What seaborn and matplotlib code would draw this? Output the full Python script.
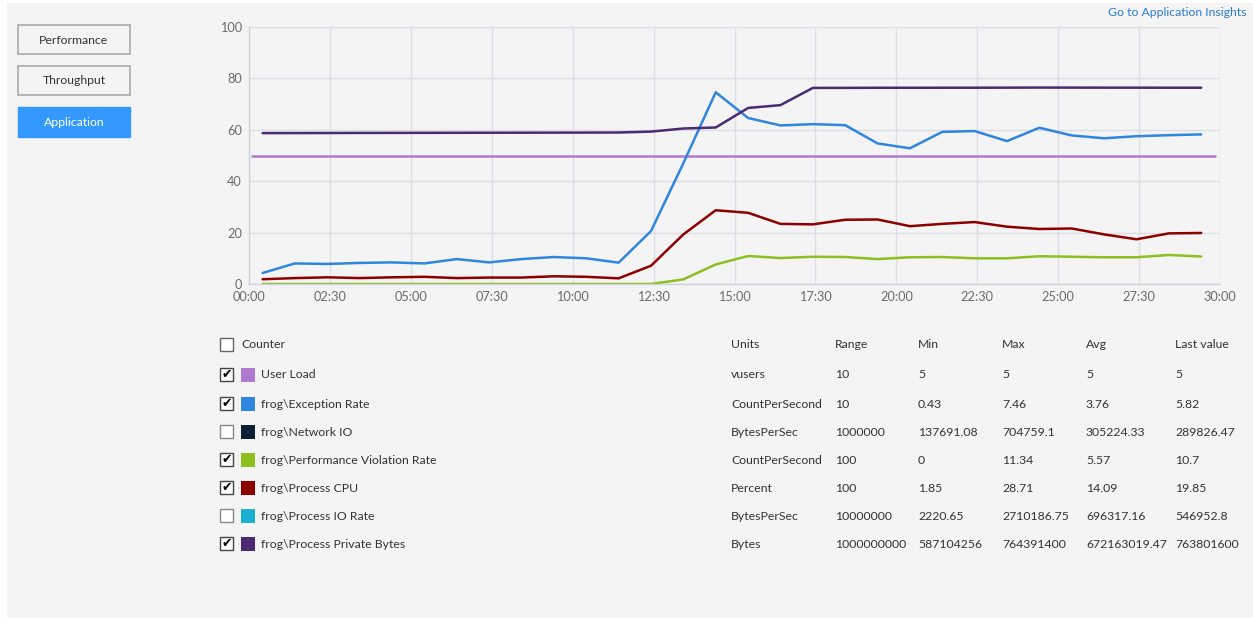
import pandas as pd
import matplotlib
matplotlib.use("Agg")
import matplotlib.pyplot as plt
from matplotlib.patches import Rectangle
import seaborn as sns

W, H = 1253, 621

# sample times in minutes since start of the run
minutes = [0.42, 1.42, 2.42, 3.42, 4.42, 5.42, 6.42, 7.42, 8.42, 9.42,
           10.42, 11.42, 12.42, 13.42, 14.42, 15.42, 16.42, 17.42, 18.42, 19.42,
           20.42, 21.42, 22.42, 23.42, 24.42, 25.42, 26.42, 27.42, 28.42, 29.42]

exception_rate = [4.3, 8.0, 7.8, 8.2, 8.4, 8.0, 9.7, 8.4, 9.7, 10.5,
                  10.0, 8.3, 20.6, 47.0, 74.6, 64.6, 61.7, 62.2, 61.8, 54.7,
                  52.8, 59.2, 59.5, 55.6, 60.8, 57.8, 56.7, 57.5, 57.9, 58.2]
perf_violation = [0.0, 0.0, 0.0, 0.0, 0.0, 0.0, 0.0, 0.0, 0.0, 0.0,
                  0.0, 0.0, 0.0, 1.8, 7.6, 10.9, 10.1, 10.6, 10.5, 9.7,
                  10.4, 10.5, 10.0, 10.0, 10.8, 10.6, 10.4, 10.4, 11.3, 10.7]
process_cpu = [1.85, 2.3, 2.6, 2.3, 2.6, 2.8, 2.3, 2.5, 2.5, 3.0,
               2.8, 2.2, 7.1, 19.3, 28.7, 27.7, 23.4, 23.2, 25.0, 25.1,
               22.5, 23.4, 24.1, 22.3, 21.4, 21.6, 19.3, 17.4, 19.7, 19.85]
private_bytes = [58.71, 58.73, 58.75, 58.78, 58.80, 58.82, 58.84, 58.86, 58.88, 58.90,
                 58.92, 58.95, 59.3, 60.5, 60.9, 68.5, 69.6, 76.3, 76.32, 76.35,
                 76.36, 76.37, 76.38, 76.40, 76.44, 76.42, 76.40, 76.39, 76.38, 76.38]
user_load_minutes = [0.1, 29.85]
user_load = [50, 50]

tick_minutes = [0, 2.5, 5, 7.5, 10, 12.5, 15, 17.5, 20, 22.5, 25, 27.5, 30]
tick_labels = ["00:00", "02:30", "05:00", "07:30", "10:00", "12:30", "15:00",
               "17:30", "20:00", "22:30", "25:00", "27:30", "30:00"]

counters = ["User Load", "frog\\Exception Rate", "frog\\Network IO",
            "frog\\Performance Violation Rate", "frog\\Process CPU",
            "frog\\Process IO Rate", "frog\\Process Private Bytes"]
checked = [True, True, False, True, True, False, True]
colors = ["#b07ad0", "#2f86de", "#0e1f38", "#8cbf1f", "#8e0000", "#1aaed0", "#4a2a72"]
units = ["vusers", "CountPerSecond", "BytesPerSec", "CountPerSecond", "Percent",
         "BytesPerSec", "Bytes"]
ranges = ["10", "10", "1000000", "100", "100", "10000000", "1000000000"]
mins = ["5", "0.43", "137691.08", "0", "1.85", "2220.65", "587104256"]
maxs = ["5", "7.46", "704759.1", "11.34", "28.71", "2710186.75", "764391400"]
avgs = ["5", "3.76", "305224.33", "5.57", "14.09", "696317.16", "672163019.47"]
lasts = ["5", "5.82", "289826.47", "10.7", "19.85", "546952.8", "763801600"]
buttons = ["Performance", "Throughput", "Application"]

palette = dict(zip(counters, colors))

df = pd.concat([
    pd.DataFrame({"minute": user_load_minutes, "value": user_load, "counter": counters[0]}),
    pd.DataFrame({"minute": minutes, "value": exception_rate, "counter": counters[1]}),
    pd.DataFrame({"minute": minutes, "value": perf_violation, "counter": counters[3]}),
    pd.DataFrame({"minute": minutes, "value": process_cpu, "counter": counters[4]}),
    pd.DataFrame({"minute": minutes, "value": private_bytes, "counter": counters[6]}),
])

sns.set_theme(style="whitegrid")
plt.rcParams["font.family"] = ["Lato", "DejaVu Sans"]

BG = "#f4f4f4"
TXT = "#333333"
FS = 8.8

fig = plt.figure(figsize=(W / 100, H / 100), dpi=100, facecolor="white")


def fx(x):
    return x / W


def fy(y):
    return 1 - y / H


def box(x, y, w, h, **kw):
    fig.patches.append(Rectangle((fx(x), fy(y + h)), w / W, h / H,
                                 transform=fig.transFigure, **kw))


# panel background
box(7, 3, W - 7, 615, facecolor=BG, edgecolor="none", zorder=-5)

ax = fig.add_axes([fx(249), fy(284), 971 / W, 257 / H])
ax.set_zorder(1)
sns.lineplot(data=df, x="minute", y="value", hue="counter", palette=palette,
             ax=ax, legend=False, linewidth=1.8, estimator=None, sort=False)
ax.set_facecolor(BG)
ax.set_xlim(0, 30)
ax.set_ylim(0, 100)
ax.set_xticks(tick_minutes)
ax.set_xticklabels(tick_labels)
ax.set_yticks([0, 20, 40, 60, 80, 100])
ax.set_xlabel("")
ax.set_ylabel("")
ax.grid(True, color="#dcdee6", linewidth=1)
ax.tick_params(length=0, labelsize=9.2, colors="#6b6b6b", pad=5)
for side in ["top", "right"]:
    ax.spines[side].set_visible(False)
for side in ["left", "bottom"]:
    ax.spines[side].set_color("#d0d2da")
    ax.spines[side].set_linewidth(1)

# left hand buttons
for i, name in enumerate(buttons):
    y0 = 25 + i * 41
    if name == "Application":
        box(18, y0, 112, 30, facecolor="#3399ff", edgecolor="#3399ff", zorder=2)
        fig.text(fx(74), fy(y0 + 15), name, color="white", fontsize=FS,
                 ha="center", va="center")
    else:
        box(18, y0, 112, 29, facecolor=BG, edgecolor="#aaaaaa", linewidth=1.2, zorder=2)
        fig.text(fx(74), fy(y0 + 15), name, color=TXT, fontsize=FS,
                 ha="center", va="center")

fig.text(fx(1247), fy(13), "Go to Application Insights", color="#2b7cd3",
         fontsize=FS, ha="right", va="center")

# counter table
cols_x = [731, 835, 918, 1002, 1086, 1175]
headers = ["Units", "Range", "Min", "Max", "Avg", "Last value"]
box(220, 338, 13, 13, facecolor="white", edgecolor="#666666", linewidth=1, zorder=2)
fig.text(fx(241), fy(345), "Counter", color=TXT, fontsize=FS, va="center")
for cx, h in zip(cols_x, headers):
    fig.text(fx(cx), fy(345), h, color=TXT, fontsize=FS, va="center")

row_y = [375, 404, 432, 460, 488, 516, 544]
for i, yy in enumerate(row_y):
    box(220, yy - 7, 13, 13, facecolor="white",
        edgecolor="#444444" if checked[i] else "#888888", linewidth=1, zorder=2)
    if checked[i]:
        fig.text(fx(226.5), fy(yy - 0.5), "\u2714", color="black", fontsize=9,
                 ha="center", va="center", family="DejaVu Sans", zorder=3)
    box(241, yy - 7, 14, 14, facecolor=colors[i], edgecolor="none", zorder=2)
    fig.text(fx(261), fy(yy), counters[i], color=TXT, fontsize=FS, va="center")
    vals = [units[i], ranges[i], mins[i], maxs[i], avgs[i], lasts[i]]
    for cx, v in zip(cols_x, vals):
        fig.text(fx(cx), fy(yy), v, color=TXT, fontsize=FS, va="center")

fig.savefig("out.png", dpi=100, facecolor=fig.get_facecolor())
